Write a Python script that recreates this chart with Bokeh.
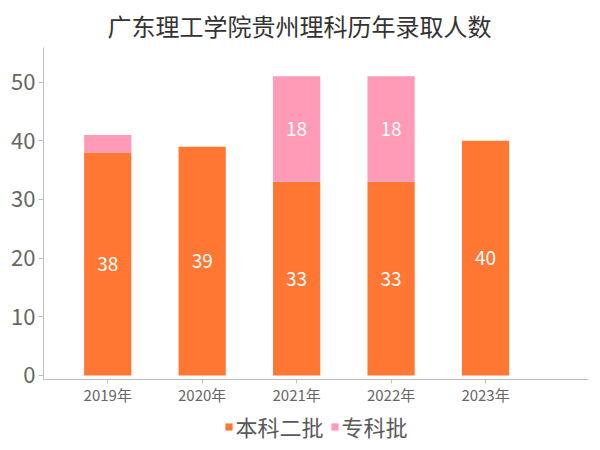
from bokeh.plotting import figure
from bokeh.layouts import column
from bokeh.models import ColumnDataSource, LabelSet, Legend, LegendItem, FixedTicker, Range1d
from bokeh.core.properties import value
from bokeh.embed import file_html
from bokeh.resources import INLINE

years = ["2019年", "2020年", "2021年", "2022年", "2023年"]
benke2 = [38, 39, 33, 33, 40]
zhuanke = [3, 0, 18, 18, 0]
y_ticks = [0, 10, 20, 30, 40, 50]
series_names = ["本科二批", "专科批"]

FONT = "Noto Sans CJK SC"
ORANGE = "#FF7733"
PINK = "#FF9AB7"

x = list(range(len(years)))
top1 = benke2
top2 = [a + b for a, b in zip(benke2, zhuanke)]

src = ColumnDataSource(dict(
    x=x, b=benke2, z=zhuanke, top1=top1, top2=top2,
    y1=[v / 2 for v in benke2],
    y2=[a + b / 2 for a, b in zip(benke2, zhuanke)],
    lb1=[str(v) for v in benke2],
    lb2=[str(v) if v >= 10 else "" for v in zhuanke],
))

p = figure(frame_width=545, frame_height=332, output_backend="svg", toolbar_location=None,
           x_range=Range1d(-0.68, 5.09), y_range=Range1d(-0.7, 55.9),
           min_border_left=43, min_border_right=4, min_border_top=0, min_border_bottom=0)

p.vbar(x="x", width=0.5, bottom=0, top="top1", source=src, color=ORANGE, line_color=None)
p.vbar(x="x", width=0.5, bottom="top1", top="top2", source=src, color=PINK, line_color=None)

for ycol, tcol in (("y1", "lb1"), ("y2", "lb2")):
    p.add_layout(LabelSet(x="x", y=ycol, text=tcol, source=src, text_color="white",
                          text_font=value(FONT), text_font_size="19px", text_align="center",
                          text_baseline="middle"))

p.title.text = "广东理工学院贵州理科历年录取人数"
p.title.align = "left"
p.title.offset = 64
p.title.text_font = FONT
p.title.text_font_size = "24px"
p.title.text_font_style = "normal"
p.title.text_color = "#333333"

p.grid.visible = False
p.outline_line_color = None

p.yaxis.ticker = FixedTicker(ticks=y_ticks)
p.yaxis.major_label_text_font = FONT
p.yaxis.major_label_text_font_size = "22px"
p.yaxis.major_label_text_color = "#666666"
p.yaxis.axis_line_color = "#BFBFBF"
p.yaxis.major_tick_line_color = "#BFBFBF"
p.yaxis.major_tick_out = 5
p.yaxis.major_tick_in = 0
p.yaxis.minor_tick_line_color = None
p.yaxis.major_label_standoff = 3

p.xaxis.ticker = FixedTicker(ticks=x)
p.xaxis.major_label_overrides = {i: y for i, y in enumerate(years)}
p.xaxis.major_label_text_font = FONT
p.xaxis.major_label_text_font_size = "15px"
p.xaxis.major_label_text_color = "#666666"
p.xaxis.axis_line_color = "#BFBFBF"
p.xaxis.major_tick_line_color = "#BFBFBF"
p.xaxis.major_tick_out = 4
p.xaxis.major_tick_in = 0
p.xaxis.minor_tick_line_color = None
p.xaxis.major_label_standoff = 0

# legend in its own strip below the chart (its renderers lie outside its view)
lf = figure(width=592, height=38, output_backend="svg", toolbar_location=None,
            x_axis_type=None, y_axis_type=None, min_border=0,
            x_range=Range1d(100, 101), y_range=Range1d(100, 101))
lf.grid.visible = False
lf.outline_line_color = None
lr1 = lf.vbar(x="x", width=0.5, bottom=0, top="top1", source=src, color=ORANGE, line_color=None)
lr2 = lf.vbar(x="x", width=0.5, bottom="top1", top="top2", source=src, color=PINK, line_color=None)
legend = Legend(items=[LegendItem(label=series_names[0], renderers=[lr1]),
                       LegendItem(label=series_names[1], renderers=[lr2])],
                orientation="horizontal", location="center",
                label_text_font=FONT, label_text_font_size="22px", label_text_color="#595959",
                glyph_width=9, glyph_height=9, spacing=6, label_standoff=3,
                border_line_color=None, background_fill_alpha=0, padding=0, margin=0)
lf.add_layout(legend, "center")

layout = column(p, lf, spacing=0)
open("out.html", "w").write(file_html(layout, INLINE))
